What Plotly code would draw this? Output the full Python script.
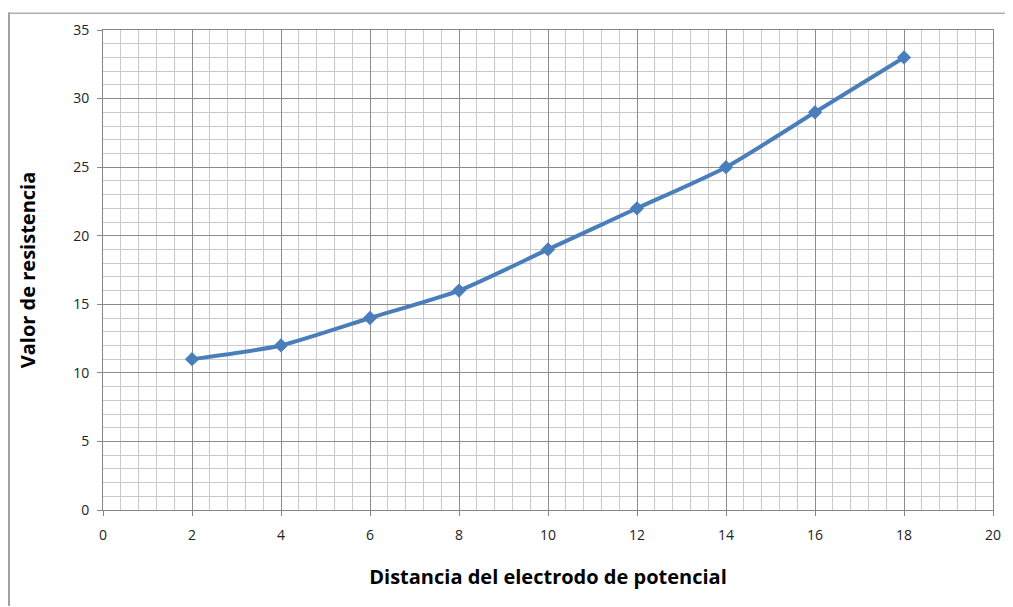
import plotly.graph_objects as go

distancia = [2, 4, 6, 8, 10, 12, 14, 16, 18]
resistencia = [11, 12, 14, 16, 19, 22, 25, 29, 33]
x_ticks = [0, 2, 4, 6, 8, 10, 12, 14, 16, 18, 20]
y_ticks = [0, 5, 10, 15, 20, 25, 30, 35]

FONT = "Open Sans, Liberation Sans, sans-serif"

fig = go.Figure()
fig.add_trace(go.Scatter(
    x=distancia, y=resistencia, mode="lines+markers",
    line=dict(color="#4A7EBB", width=4, shape="spline", smoothing=0.6),
    marker=dict(symbol="diamond", size=11, color="#4A7EBB"),
    showlegend=False,
))

axis_common = dict(
    showline=True, linecolor="#868686", linewidth=1, mirror=True,
    ticks="outside", ticklen=5, tickcolor="#868686",
    showgrid=True, gridcolor="#8c8c8c", gridwidth=1,
    zeroline=False,
    tickfont=dict(family=FONT, size=14, color="#222"),
)

fig.update_xaxes(
    range=[0, 20], tickvals=x_ticks, ticktext=[str(v) for v in x_ticks],
    minor=dict(dtick=0.4, tick0=0, showgrid=True, gridcolor="#cacaca", gridwidth=1),
    ticklabelstandoff=7,
    title=dict(text="<b>Distancia del electrodo de potencial</b>",
               font=dict(family=FONT, size=20, color="#000"),
               standoff=27),
    **axis_common,
)
fig.update_yaxes(
    range=[0, 35], tickvals=y_ticks, ticktext=[str(v) for v in y_ticks],
    minor=dict(dtick=1, tick0=0, showgrid=True, gridcolor="#cacaca", gridwidth=1),
    ticklabelstandoff=5,
    title=dict(text="<b>Valor de resistencia</b>",
               font=dict(family=FONT, size=20, color="#000"),
               standoff=32),
    **axis_common,
)

fig.update_layout(
    width=1005, height=599,
    margin=dict(l=95, r=20, t=18, b=97),
    plot_bgcolor="white", paper_bgcolor="white",
    shapes=[
        dict(type="line", xref="paper", yref="paper", x0=-0.1056, x1=-0.1056, y0=-0.2, y1=1.037,
             line=dict(color="#a0a0a0", width=2)),
        dict(type="line", xref="paper", yref="paper", x0=-0.1056, x1=1.03, y0=1.035, y1=1.035,
             line=dict(color="#b0b0b0", width=1.5)),
    ],
)

fig.write_html("out.html")
